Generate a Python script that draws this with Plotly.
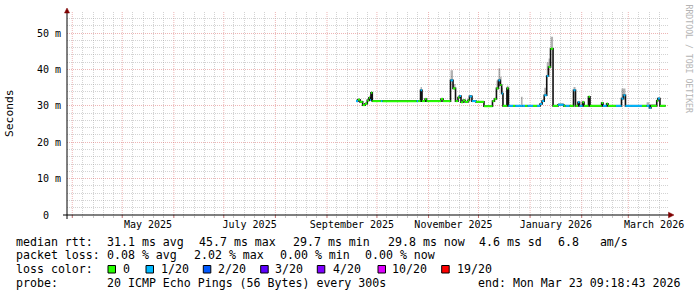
import plotly.graph_objects as go
import pandas as pd

# ---------------- data ----------------
dates = [
    "2025-09-18 10:00", "2025-09-19 15:00", "2025-09-20 20:00", "2025-09-22 10:00",
    "2025-09-23 20:00", "2025-09-25 05:00", "2025-09-26 05:00", "2025-09-26 20:00",
    "2025-09-27 10:00", "2025-09-28 05:00", "2025-10-03 10:00", "2025-10-04 07:00",
    "2025-10-24 21:00", "2025-10-25 17:00", "2025-10-27 05:00", "2025-10-28 02:00",
    "2025-10-29 22:00", "2025-10-30 19:00", "2025-11-08 12:00", "2025-11-09 17:00",
    "2025-11-14 05:00", "2025-11-15 17:00", "2025-11-17 05:00", "2025-11-18 17:00",
    "2025-11-19 14:00", "2025-11-20 12:00", "2025-11-21 17:00", "2025-11-22 22:00",
    "2025-11-24 17:00", "2025-11-25 14:00", "2025-11-27 02:00", "2025-11-29 12:00",
    "2025-12-04 07:00", "2025-12-09 10:00", "2025-12-10 14:00", "2025-12-11 19:00",
    "2025-12-13 00:00", "2025-12-14 02:00", "2025-12-14 22:00",
    # from mid-December on
    "2025-12-15 17:00", "2025-12-18 02:00", "2025-12-19 00:00", "2025-12-21 17:00",
    "2025-12-23 02:00", "2025-12-26 12:00", "2025-12-27 12:00", "2025-12-28 22:00",
    "2025-12-30 10:00", "2026-01-02 17:00", "2026-01-05 05:00", "2026-01-07 00:00",
    "2026-01-08 05:00", "2026-01-09 12:00", "2026-01-11 00:00", "2026-01-12 02:00",
    "2026-01-13 07:00", "2026-01-14 19:00", "2026-01-17 19:00", "2026-01-21 05:00",
    "2026-01-22 07:00", "2026-01-24 17:00", "2026-01-27 02:00", "2026-01-28 07:00",
    "2026-01-29 19:00", "2026-01-30 17:00", "2026-02-01 12:00", "2026-02-02 10:00",
    "2026-02-05 02:00", "2026-02-06 00:00", "2026-02-13 00:00", "2026-02-13 19:00",
    "2026-02-16 00:00", "2026-02-16 19:00", "2026-02-19 05:00", "2026-02-21 14:00",
    "2026-02-24 22:00", "2026-02-26 02:00", "2026-02-27 07:00", "2026-03-03 05:00",
    "2026-03-09 05:00", "2026-03-12 00:00", "2026-03-13 17:00", "2026-03-14 14:00",
    "2026-03-18 02:00", "2026-03-18 19:00", "2026-03-20 00:00", "2026-03-21 05:00",
    "2026-03-23 09:18",
]
median_ms = [
    31.3, 31.7, 31.1, 30.2, 30.6, 31.5, 32.2, 31.6, 33.6, 31.3, 31.3, 31.3,
    31.3, 31.3, 34.3, 31.3, 31.9, 31.3, 31.9, 31.3, 37.0, 34.8, 31.3, 32.3,
    32.7, 31.0, 31.5, 31.1, 31.5, 32.6, 31.3, 31.1, 29.9, 31.3, 31.9, 34.8,
    37.0, 35.7, 33.4,
    30.0, 34.8, 30.0, 30.0, 30.0, 30.0, 30.0, 30.0, 30.0, 30.0, 30.0, 30.5,
    31.3, 32.9, 38.2, 40.7, 45.7, 30.0, 30.3, 30.0, 30.0, 30.0, 34.3, 30.0,
    31.0, 30.0, 31.0, 30.0, 32.5, 30.0, 30.8, 30.0, 30.6, 30.0, 30.0, 30.0,
    32.0, 32.9, 30.0, 30.0, 30.0, 30.0, 29.4, 30.0, 31.4, 32.0, 30.0, 30.0,
    30.0,
]
loss_of_20 = [
    1, 0, 0, 0, 0, 0, 0, 1, 0, 0, 1, 0,
    1, 0, 1, 0, 0, 0, 0, 0, 1, 0, 0, 0,
    1, 0, 0, 0, 0, 1, 1, 0, 0, 0, 0, 0,
    1, 0, 1,
    0, 0, 1, 0, 1, 1, 1, 0, 1, 0, 1, 1,
    1, 1, 1, 0, 0, 0, 1, 0, 1, 0, 1, 0,
    1, 1, 0, 0, 0, 0, 0, 1, 0, 0, 0, 1,
    1, 1, 1, 1, 0, 1, 1, 0, 0, 1, 0, 0,
    0,
]
smoke_max_ms = [
    31.8, 32.1, 31.5, 30.6, 31.0, 31.9, 32.8, 33.0, 34.0, 31.6, 31.6, 31.6,
    31.6, 31.6, 35.2, 31.6, 32.2, 31.6, 32.2, 31.6, 39.8, 36.0, 31.6, 32.6,
    33.0, 31.4, 31.8, 31.4, 31.8, 33.0, 31.6, 31.4, 30.2, 31.6, 32.3, 37.0,
    40.3, 38.0, 35.0,
    30.3, 35.5, 30.3, 30.3, 30.3, 32.5, 30.3, 30.3, 30.3, 30.3, 30.3, 30.8,
    31.8, 35.0, 42.0, 43.0, 49.0, 30.3, 30.8, 30.3, 30.3, 30.3, 35.2, 30.3,
    31.3, 30.3, 31.4, 30.3, 32.8, 30.3, 31.1, 30.3, 30.9, 30.3, 30.3, 30.3,
    34.8, 34.8, 30.3, 30.3, 30.3, 31.0, 30.5, 30.5, 32.0, 32.3, 30.3, 30.3,
    30.3,
]

x_range = ["2025-03-28 19:40", "2026-03-24 20:24"]
grid_month_starts = pd.date_range("2025-04-01", "2026-03-01", freq="MS")
label_months = ["2025-05-01", "2025-07-01", "2025-09-01", "2025-11-01", "2026-01-01", "2026-03-01"]
label_text = ["May 2025", "July 2025", "September 2025", "November 2025", "January 2026", "March 2026"]
minor_day_offsets = [6, 12.5, 18.5, 24.5]

y_tick_vals = [0, 10, 20, 30, 40, 50]
y_tick_text = ["0\u00a0\u00a0", "10 m", "20 m", "30 m", "40 m", "50 m"]
y_max = 55.8

loss_levels = [0, 1, 2, 3, 4, 10, 19]
loss_labels = ["0", "1/20", "2/20", "3/20", "4/20", "10/20", "19/20"]
loss_colors = ["#26ff00", "#00b8ff", "#0059ff", "#5e00ff", "#7e00ff", "#dd00ff", "#ff0000"]

row1 = ["median rtt:", "31.1 ms avg", "45.7 ms max", "29.7 ms min", "29.8 ms now", "4.6 ms sd", "6.8   am/s"]
row2 = ["packet loss:", "0.08 % avg", "2.02 % max", "0.00 % min", "0.00 % now"]
row4 = ["probe:", "20 ICMP Echo Pings (56 Bytes) every 300s", "end: Mon Mar 23 09:18:43 2026"]

# ---------------- layout geometry (pixels) ----------------
W, H = 697, 297
L, R, T, B = 67, 668, 12, 215
PW, PH = R - L, B - T
MONO = "DejaVu Sans Mono"


def px(x):
    return (x - L) / PW


def py(y):
    return (B - y) / PH


dt = pd.to_datetime(dates)
fig = go.Figure()

# smoke
fig.add_trace(go.Scatter(x=dt, y=median_ms, mode="lines",
                         line=dict(width=0, shape="hv"), hoverinfo="skip", showlegend=False))
fig.add_trace(go.Scatter(x=dt, y=smoke_max_ms, mode="lines", fill="tonexty",
                         fillcolor="rgba(0,0,0,0.30)", line=dict(width=0, shape="hv"),
                         hoverinfo="skip", showlegend=False))
# black step connector
fig.add_trace(go.Scatter(x=dt, y=median_ms, mode="lines",
                         line=dict(color="#111111", width=1.6, shape="hv"),
                         hoverinfo="skip", showlegend=False))
# loss-coloured median segments
for lvl, col in zip(loss_levels, loss_colors):
    xs, ys = [], []
    for i in range(len(dt) - 1):
        if loss_of_20[i] == lvl:
            xs += [dt[i], dt[i + 1], None]
            ys += [median_ms[i], median_ms[i], None]
    if xs:
        fig.add_trace(go.Scatter(x=xs, y=ys, mode="lines", line=dict(color=col, width=2),
                                 hoverinfo="skip", showlegend=False))

# axis tick positions
label_dates = []
for m in label_months:
    s = pd.Timestamp(m)
    e = s + pd.offsets.MonthBegin(1)
    label_dates.append(s + (e - s) / 2)
minor_dates = []
for m in grid_month_starts:
    for d in minor_day_offsets:
        minor_dates.append(m + pd.Timedelta(days=d))

grid_gray = "rgba(150,150,150,0.42)"
grid_red = "rgba(215,90,90,0.45)"

fig.update_layout(
    width=W, height=H,
    margin=dict(l=L, r=W - R, t=T, b=H - B),
    paper_bgcolor="white", plot_bgcolor="white",
    showlegend=False,
    xaxis=dict(
        type="date", range=x_range,
        tickmode="array", tickvals=label_dates, ticktext=label_text,
        ticks="", showgrid=False, zeroline=False, showline=False,
        tickfont=dict(family=MONO, size=10, color="#000"),
        ticklabelstandoff=2,
        minor=dict(tickmode="array", tickvals=minor_dates, showgrid=True,
                   gridcolor=grid_gray, griddash="1px,1px", gridwidth=1,
                   ticks="outside", ticklen=2, tickcolor="#c8c8c8"),
    ),
    yaxis=dict(
        range=[0, y_max], tickmode="array", tickvals=y_tick_vals, ticktext=y_tick_text,
        ticks="", showgrid=True, gridcolor=grid_red, griddash="1px,1px",
        zeroline=False, showline=False,
        tickfont=dict(family=MONO, size=10, color="#000"),
        ticklabelstandoff=5,
        minor=dict(tickmode="array",
                   tickvals=[v for v in range(2, 56, 2) if v % 10 != 0],
                   showgrid=True, gridcolor=grid_gray, griddash="1px,1px", gridwidth=1),
    ),
)

shapes = []
# red month-start grid
for m in grid_month_starts:
    shapes.append(dict(type="line", xref="x", yref="paper", x0=m, x1=m, y0=0, y1=1,
                       line=dict(color=grid_red, width=1, dash="1px,1px"), layer="below"))
    shapes.append(dict(type="line", xref="x", yref="paper", x0=m, x1=m, y0=py(B), y1=py(B + 3),
                       line=dict(color="#c07070", width=1), layer="above"))
# axis lines
shapes.append(dict(type="line", xref="paper", yref="paper", x0=px(63), x1=px(669), y0=py(B), y1=py(B),
                   line=dict(color="#000", width=1)))
shapes.append(dict(type="line", xref="paper", yref="paper", x0=px(L), x1=px(L), y0=py(219), y1=py(12),
                   line=dict(color="#000", width=1)))
# arrows
shapes.append(dict(type="path", xref="paper", yref="paper",
                   path=f"M {px(64.5)} {py(13)} L {px(69.5)} {py(13)} L {px(67)} {py(8)} Z",
                   fillcolor="#7f0000", line=dict(color="#7f0000", width=0.5)))
shapes.append(dict(type="path", xref="paper", yref="paper",
                   path=f"M {px(668.5)} {py(212.2)} L {px(668.5)} {py(217.8)} L {px(674)} {py(215)} Z",
                   fillcolor="#7f0000", line=dict(color="#7f0000", width=0.5)))

annotations = []


def txt(x, y, s, size=11.6, color="#000", angle=0, xanchor="left"):
    annotations.append(dict(x=px(x), y=py(y), xref="paper", yref="paper", text=s,
                            showarrow=False, xanchor=xanchor, yanchor="middle",
                            font=dict(family=MONO, size=size, color=color),
                            textangle=angle, borderpad=0, borderwidth=0))


# y-axis unit label
txt(10, 113, "Seconds", size=11.3, angle=-90, xanchor="center")
# watermark
txt(688.5, 59, "RRDTOOL / TOBI OETIKER", size=8.2, color="#b4b4b4", angle=90, xanchor="center")

# legend rows
row1_x = [16, 107, 199.3, 293.3, 387.5, 479.3, 558.3]
row2_x = [16, 107, 194, 280, 365]
row4_x = [16, 107, 478.3]
for s, x in zip(row1, row1_x):
    txt(x, 241.7, s)
for s, x in zip(row2, row2_x):
    txt(x, 255.2, s)
txt(16, 269.3, "loss color:")
box_x = [108, 146, 203.3, 260.7, 317.3, 378, 441.7]
lab_x = [123, 160.7, 218.3, 275, 333.3, 391.7, 456.7]
for lab, col, bx, lx in zip(loss_labels, loss_colors, box_x, lab_x):
    shapes.append(dict(type="rect", xref="paper", yref="paper",
                       x0=px(bx), x1=px(bx + 7.5), y0=py(265.5), y1=py(273),
                       fillcolor=col, line=dict(color="#000", width=1)))
    txt(lx, 269.3, lab)
for s, x in zip(row4, row4_x):
    txt(x, 282.8, s)

fig.update_layout(shapes=shapes, annotations=annotations)
fig.write_html("out.html")
